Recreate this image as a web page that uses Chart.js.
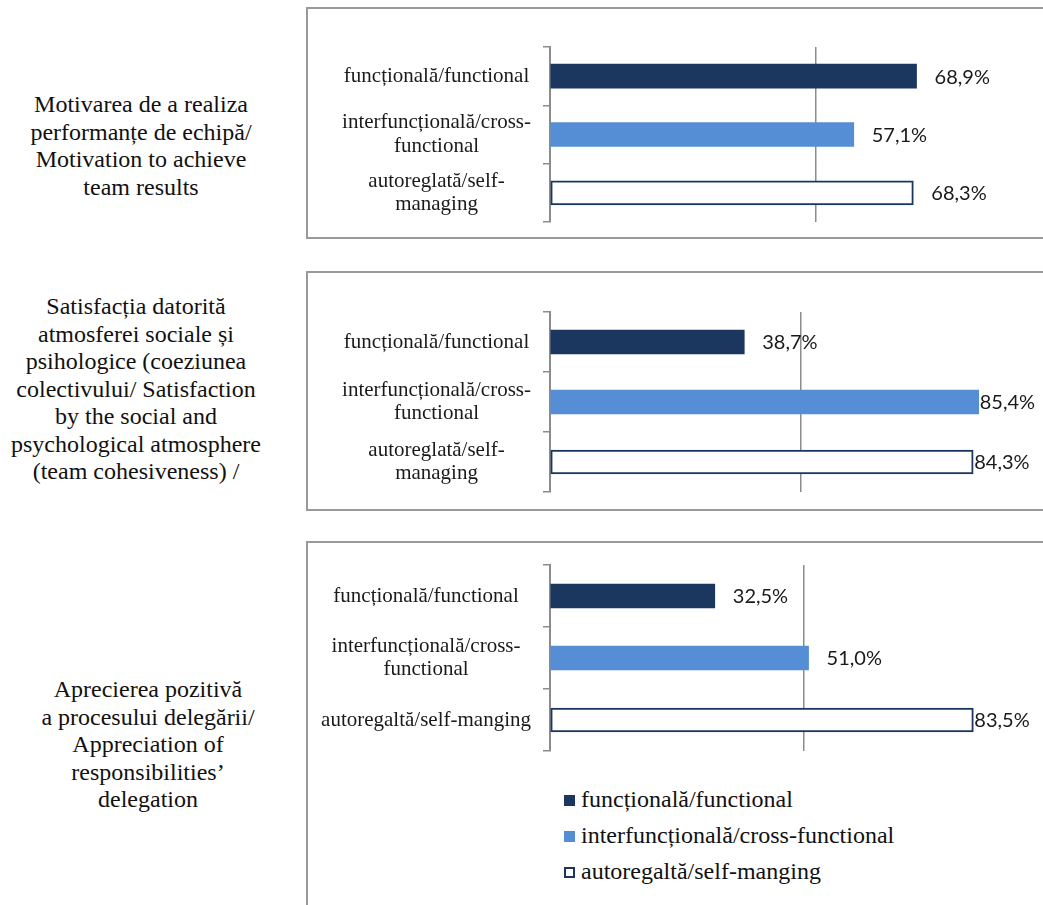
<!DOCTYPE html>
<html>
<head>
<meta charset="utf-8">
<script src="https://cdn.jsdelivr.net/npm/chart.js@4"></script>
<style>
  html, body { margin: 0; padding: 0; background: #fff; }
  body { width: 1043px; height: 905px; overflow: hidden; position: relative; font-family: "Times New Roman", Times, "Liberation Serif", serif; }
  .box { position: absolute; left: 306px; width: 800px; border: 2px solid #999; box-sizing: border-box; }
  .title { position: absolute; width: 300px; text-align: center; font-family: "Times New Roman", Times, "Liberation Serif", serif; font-size: 24px; line-height: 27.5px; color: #111; }
  canvas { position: absolute; left: 310px; }
  #legend { position: absolute; left: 564px; top: 781px; font-family: "Times New Roman", Times, "Liberation Serif", serif; font-size: 24px; line-height: 36px; color: #111; }
  #legend .mark { display: inline-block; width: 11px; height: 11px; box-sizing: border-box; margin-right: 6px; vertical-align: 1px; }
</style>
</head>
<body>
<div class="box" style="top:7px;height:232px"></div>
<div class="box" style="top:271px;height:240px"></div>
<div class="box" style="top:541px;height:400px"></div>

<div class="title" style="left:-9px;top:91px">Motivarea de a realiza<br>performanțe de echipă/<br>Motivation to achieve<br>team results</div>
<div class="title" style="left:-14px;top:293px">Satisfacția datorită<br>atmosferei sociale și<br>psihologice (coeziunea<br>colectivului/ Satisfaction<br>by the social and<br>psychological atmosphere<br>(team cohesiveness) /</div>
<div class="title" style="left:-2px;top:676px">Aprecierea pozitivă<br>a procesului delegării/<br>Appreciation of<br>responsibilities’<br>delegation</div>

<canvas id="chart1" width="772" height="190" style="top:40px"></canvas>
<canvas id="chart2" width="742" height="200" style="top:300px"></canvas>
<canvas id="chart3" width="747" height="205" style="top:555px"></canvas>
<div id="legend"></div>

<script>
const categories = ['funcțională/functional', ['interfuncțională/cross-', 'functional'], ['autoreglată/self-', 'managing']];
const categoriesDelegation = ['funcțională/functional', ['interfuncțională/cross-', 'functional'], 'autoregaltă/self-manging'];
const legendLabels = ['funcțională/functional', 'interfuncțională/cross-functional', 'autoregaltă/self-manging'];
const motivationValues = [68.9, 57.1, 68.3];
const satisfactionValues = [38.7, 85.4, 84.3];
const delegationValues = [32.5, 51.0, 83.5];
const xMin = 0;
const xMax = 100;
const xStep = 50;

const navy = '#1b3760';
const blue = '#558ed5';
const fills = [navy, blue, '#ffffff'];
const borders = [navy, blue, navy];
const gridColor = '#8c8c8c';
const serif = "'Liberation Serif', 'Times New Roman', serif";

// value labels at the end of each bar, pulled in when they would run off the page
const valueLabels = {
  id: 'valueLabels',
  afterDatasetsDraw(chart, args, opts) {
    const ctx = chart.ctx;
    const meta = chart.getDatasetMeta(0);
    const values = chart.data.datasets[0].data;
    ctx.save();
    ctx.font = '20px Lato';
    ctx.fillStyle = '#1a1a1a';
    ctx.textBaseline = 'middle';
    meta.data.forEach((bar, i) => {
      const text = values[i].toFixed(1).replace('.', ',') + '%';
      const w = ctx.measureText(text).width;
      let x = bar.x + 18;
      if (x + w > opts.limit) x = bar.x + 1;
      ctx.fillText(text, x, bar.y + 1);
    });
    ctx.restore();
  }
};

function makeChart(id, labels, values, padTop, padBottom) {
  return new Chart(document.getElementById(id), {
    type: 'bar',
    data: {
      labels: labels,
      datasets: [{
        data: values,
        backgroundColor: fills,
        borderColor: borders,
        borderWidth: [0, 0, 2],
        borderSkipped: false,
        barThickness: 24
      }]
    },
    options: {
      indexAxis: 'y',
      responsive: false,
      animation: false,
      layout: { padding: { top: padTop, bottom: padBottom, left: 0, right: 0 } },
      plugins: {
        legend: { display: false },
        tooltip: { enabled: false },
        valueLabels: { limit: 1040 - 310 }
      },
      scales: {
        x: {
          min: xMin,
          max: xMax,
          ticks: { display: false, stepSize: xStep },
          grid: { color: gridColor, lineWidth: 1.5, drawTicks: false },
          border: { display: false },
          afterFit: s => { s.height = 0; s.paddingLeft = 0; s.paddingRight = 0; }
        },
        y: {
          ticks: {
            color: '#1a1a1a',
            padding: 12,
            crossAlign: 'center',
            font: { family: serif, size: 21, lineHeight: 1.1 }
          },
          grid: { offset: true, drawOnChartArea: false, tickLength: 7, color: gridColor, lineWidth: 1.5 },
          border: { display: true, color: gridColor, width: 2 },
          afterFit: s => { s.width = 240; s.paddingTop = 0; s.paddingBottom = 0; }
        }
      }
    },
    plugins: [valueLabels]
  });
}

makeChart('chart1', categories, motivationValues, 7, 8);
makeChart('chart2', categories, satisfactionValues, 12, 8);
makeChart('chart3', categoriesDelegation, delegationValues, 10, 9);

// legend for the last panel
const legend = document.getElementById('legend');
legendLabels.forEach((label, i) => {
  const row = document.createElement('div');
  const mark = document.createElement('span');
  mark.className = 'mark';
  mark.style.background = fills[i];
  if (i === 2) mark.style.border = '2px solid ' + navy;
  row.appendChild(mark);
  row.appendChild(document.createTextNode(label));
  legend.appendChild(row);
});
</script>
</body>
</html>
